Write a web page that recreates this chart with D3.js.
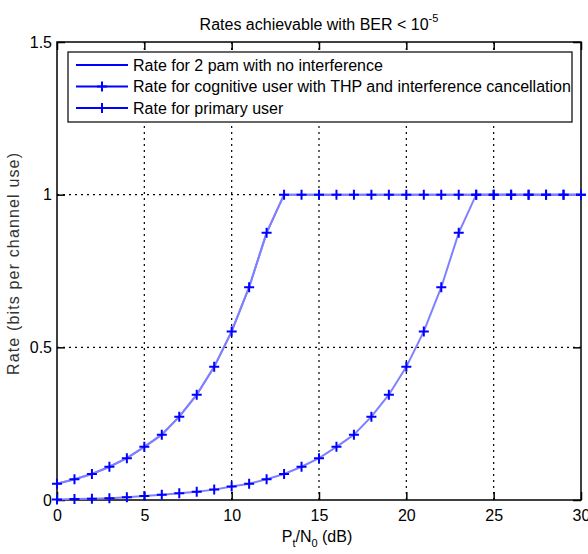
<!DOCTYPE html>
<html>
<head>
<meta charset="utf-8">
<script src="https://cdn.jsdelivr.net/npm/d3@7"></script>
<style>
  body { margin: 0; background: #fff; }
  text { font-family: "Liberation Sans", Arial, sans-serif; fill: #000; }
</style>
</head>
<body>
<div id="chart"></div>
<script>
// P_t/N_0 in dB
const snrDb = [0, 1, 2, 3, 4, 5, 6, 7, 8, 9, 10, 11, 12, 13, 14, 15, 16, 17, 18, 19, 20,
               21, 22, 23, 24, 25, 26, 27, 28, 29, 30];

// rate curves
const pamRate = [0.053, 0.068, 0.085, 0.109, 0.137, 0.174, 0.214, 0.273, 0.345, 0.436, 0.552,
                 0.697, 0.875, 1, 1, 1, 1, 1, 1, 1, 1, 1, 1, 1, 1, 1, 1, 1, 1, 1, 1];
const cognitiveRate = [0.053, 0.068, 0.085, 0.109, 0.137, 0.174, 0.214, 0.273, 0.345, 0.436, 0.552,
                       0.697, 0.875, 1, 1, 1, 1, 1, 1, 1, 1, 1, 1, 1, 1, 1, 1, 1, 1, 1, 1];
const primaryRate = [0.002, 0.003, 0.004, 0.006, 0.009, 0.013, 0.017, 0.022, 0.027, 0.034, 0.044,
                     0.053, 0.068, 0.085, 0.109, 0.137, 0.174, 0.214, 0.273, 0.345, 0.436,
                     0.552, 0.697, 0.875, 1, 1, 1, 1, 1, 1, 1];

const xTicks = [0, 5, 10, 15, 20, 25, 30];
const yTicks = [0, 0.5, 1, 1.5];
const legendLabels = [
    "Rate for 2 pam with no interference",
    "Rate for cognitive user with THP and interference cancellation",
    "Rate for primary user"
];

const margin = { top: 42, right: 7, bottom: 54, left: 57 };
const width = 588 - margin.left - margin.right;
const height = 554 - margin.top - margin.bottom;

const svg = d3.select("#chart")
    .append("svg")
    .attr("width", 588)
    .attr("height", 554);

const g = svg.append("g")
    .attr("transform", "translate(" + margin.left + "," + margin.top + ")");

const x = d3.scaleLinear().domain([0, 30]).range([0, width]);
const y = d3.scaleLinear().domain([0, 1.5]).range([height, 0]);

// dotted grid
g.selectAll(".vgrid")
    .data(xTicks.slice(1, -1))
    .enter().append("line")
    .attr("x1", d => x(d)).attr("x2", d => x(d))
    .attr("y1", 0).attr("y2", height)
    .attr("stroke", "#000").attr("stroke-width", 1.2)
    .attr("stroke-dasharray", "2,4");

g.selectAll(".hgrid")
    .data(yTicks.slice(1, -1))
    .enter().append("line")
    .attr("x1", 0).attr("x2", width)
    .attr("y1", d => y(d)).attr("y2", d => y(d))
    .attr("stroke", "#000").attr("stroke-width", 1.2)
    .attr("stroke-dasharray", "2,4");

// axes with inward ticks on all four sides
const fmt = d => d3.format("~g")(d);
g.append("g")
    .attr("transform", "translate(0," + height + ")")
    .call(d3.axisBottom(x).tickValues(xTicks).tickFormat(fmt).tickSize(-8).tickPadding(10));
g.append("g")
    .call(d3.axisLeft(y).tickValues(yTicks).tickFormat(fmt).tickSize(-8).tickPadding(5));
g.append("g")
    .call(d3.axisTop(x).tickValues(xTicks).tickFormat("").tickSize(-8));
g.append("g")
    .attr("transform", "translate(" + width + ",0)")
    .call(d3.axisRight(y).tickValues(yTicks).tickFormat("").tickSize(-8));

g.selectAll(".domain").remove();
g.selectAll(".tick line").attr("stroke", "#000").attr("stroke-width", 1.5);
g.selectAll(".tick text")
    .style("font-size", "16px")
    .style("font-family", "'Liberation Sans', Arial, sans-serif")
    .attr("fill", "#000");

g.append("rect")
    .attr("width", width).attr("height", height)
    .attr("fill", "none").attr("stroke", "#000").attr("stroke-width", 1.5);

// curves
const line = d3.line()
    .x((d, i) => x(snrDb[i]))
    .y(d => y(d));

[pamRate, cognitiveRate, primaryRate].forEach(series => {
    g.append("path")
        .datum(series)
        .attr("d", line)
        .attr("fill", "none")
        .attr("stroke", "#8080ff")
        .attr("stroke-width", 2);
});

const plus = "M-5,0H5M0,-5V5";
[cognitiveRate, primaryRate].forEach(series => {
    g.selectAll(null)
        .data(series)
        .enter().append("path")
        .attr("d", plus)
        .attr("transform", (d, i) => "translate(" + x(snrDb[i]) + "," + y(d) + ")")
        .attr("stroke", "#0000ff")
        .attr("stroke-width", 2)
        .attr("fill", "none");
});

// legend
const legend = svg.append("g")
    .attr("transform", "translate(68,52)");

legend.append("rect")
    .attr("width", 504).attr("height", 70)
    .attr("fill", "#fff").attr("stroke", "#000").attr("stroke-width", 1.2);

legendLabels.forEach((label, i) => {
    const cy = 13 + i * 21.5;
    legend.append("line")
        .attr("x1", 8).attr("x2", 60)
        .attr("y1", cy).attr("y2", cy)
        .attr("stroke", "#0000ff").attr("stroke-width", 2);
    if (i > 0) {
        legend.append("path")
            .attr("d", plus)
            .attr("transform", "translate(34," + cy + ")")
            .attr("stroke", "#0000ff").attr("stroke-width", 2);
    }
    legend.append("text")
        .attr("x", 65)
        .attr("y", cy + 5.5)
        .style("font-size", "16px")
        .text(label);
});

// title
const title = svg.append("text")
    .attr("x", margin.left + width / 2)
    .attr("y", 30)
    .attr("text-anchor", "middle")
    .style("font-size", "16px");
title.append("tspan").text("Rates achievable with BER < 10");
title.append("tspan").attr("dy", -8).style("font-size", "11px").text("-5");

// x label
const xlab = svg.append("text")
    .attr("x", margin.left + width / 2 - 2)
    .attr("y", 542)
    .attr("text-anchor", "middle")
    .style("font-size", "16px");
xlab.append("tspan").text("P");
xlab.append("tspan").attr("dy", 5).style("font-size", "11px").text("t");
xlab.append("tspan").attr("dy", -5).text("/N");
xlab.append("tspan").attr("dy", 5).style("font-size", "11px").text("0");
xlab.append("tspan").attr("dy", -5).text(" (dB)");

// y label
svg.append("text")
    .attr("transform", "translate(19,264) rotate(-90)")
    .attr("text-anchor", "middle")
    .attr("textLength", 222)
    .attr("lengthAdjust", "spacing")
    .style("font-size", "16px")
    .style("fill", "#333")
    .text("Rate (bits per channel use)");
</script>
</body>
</html>
